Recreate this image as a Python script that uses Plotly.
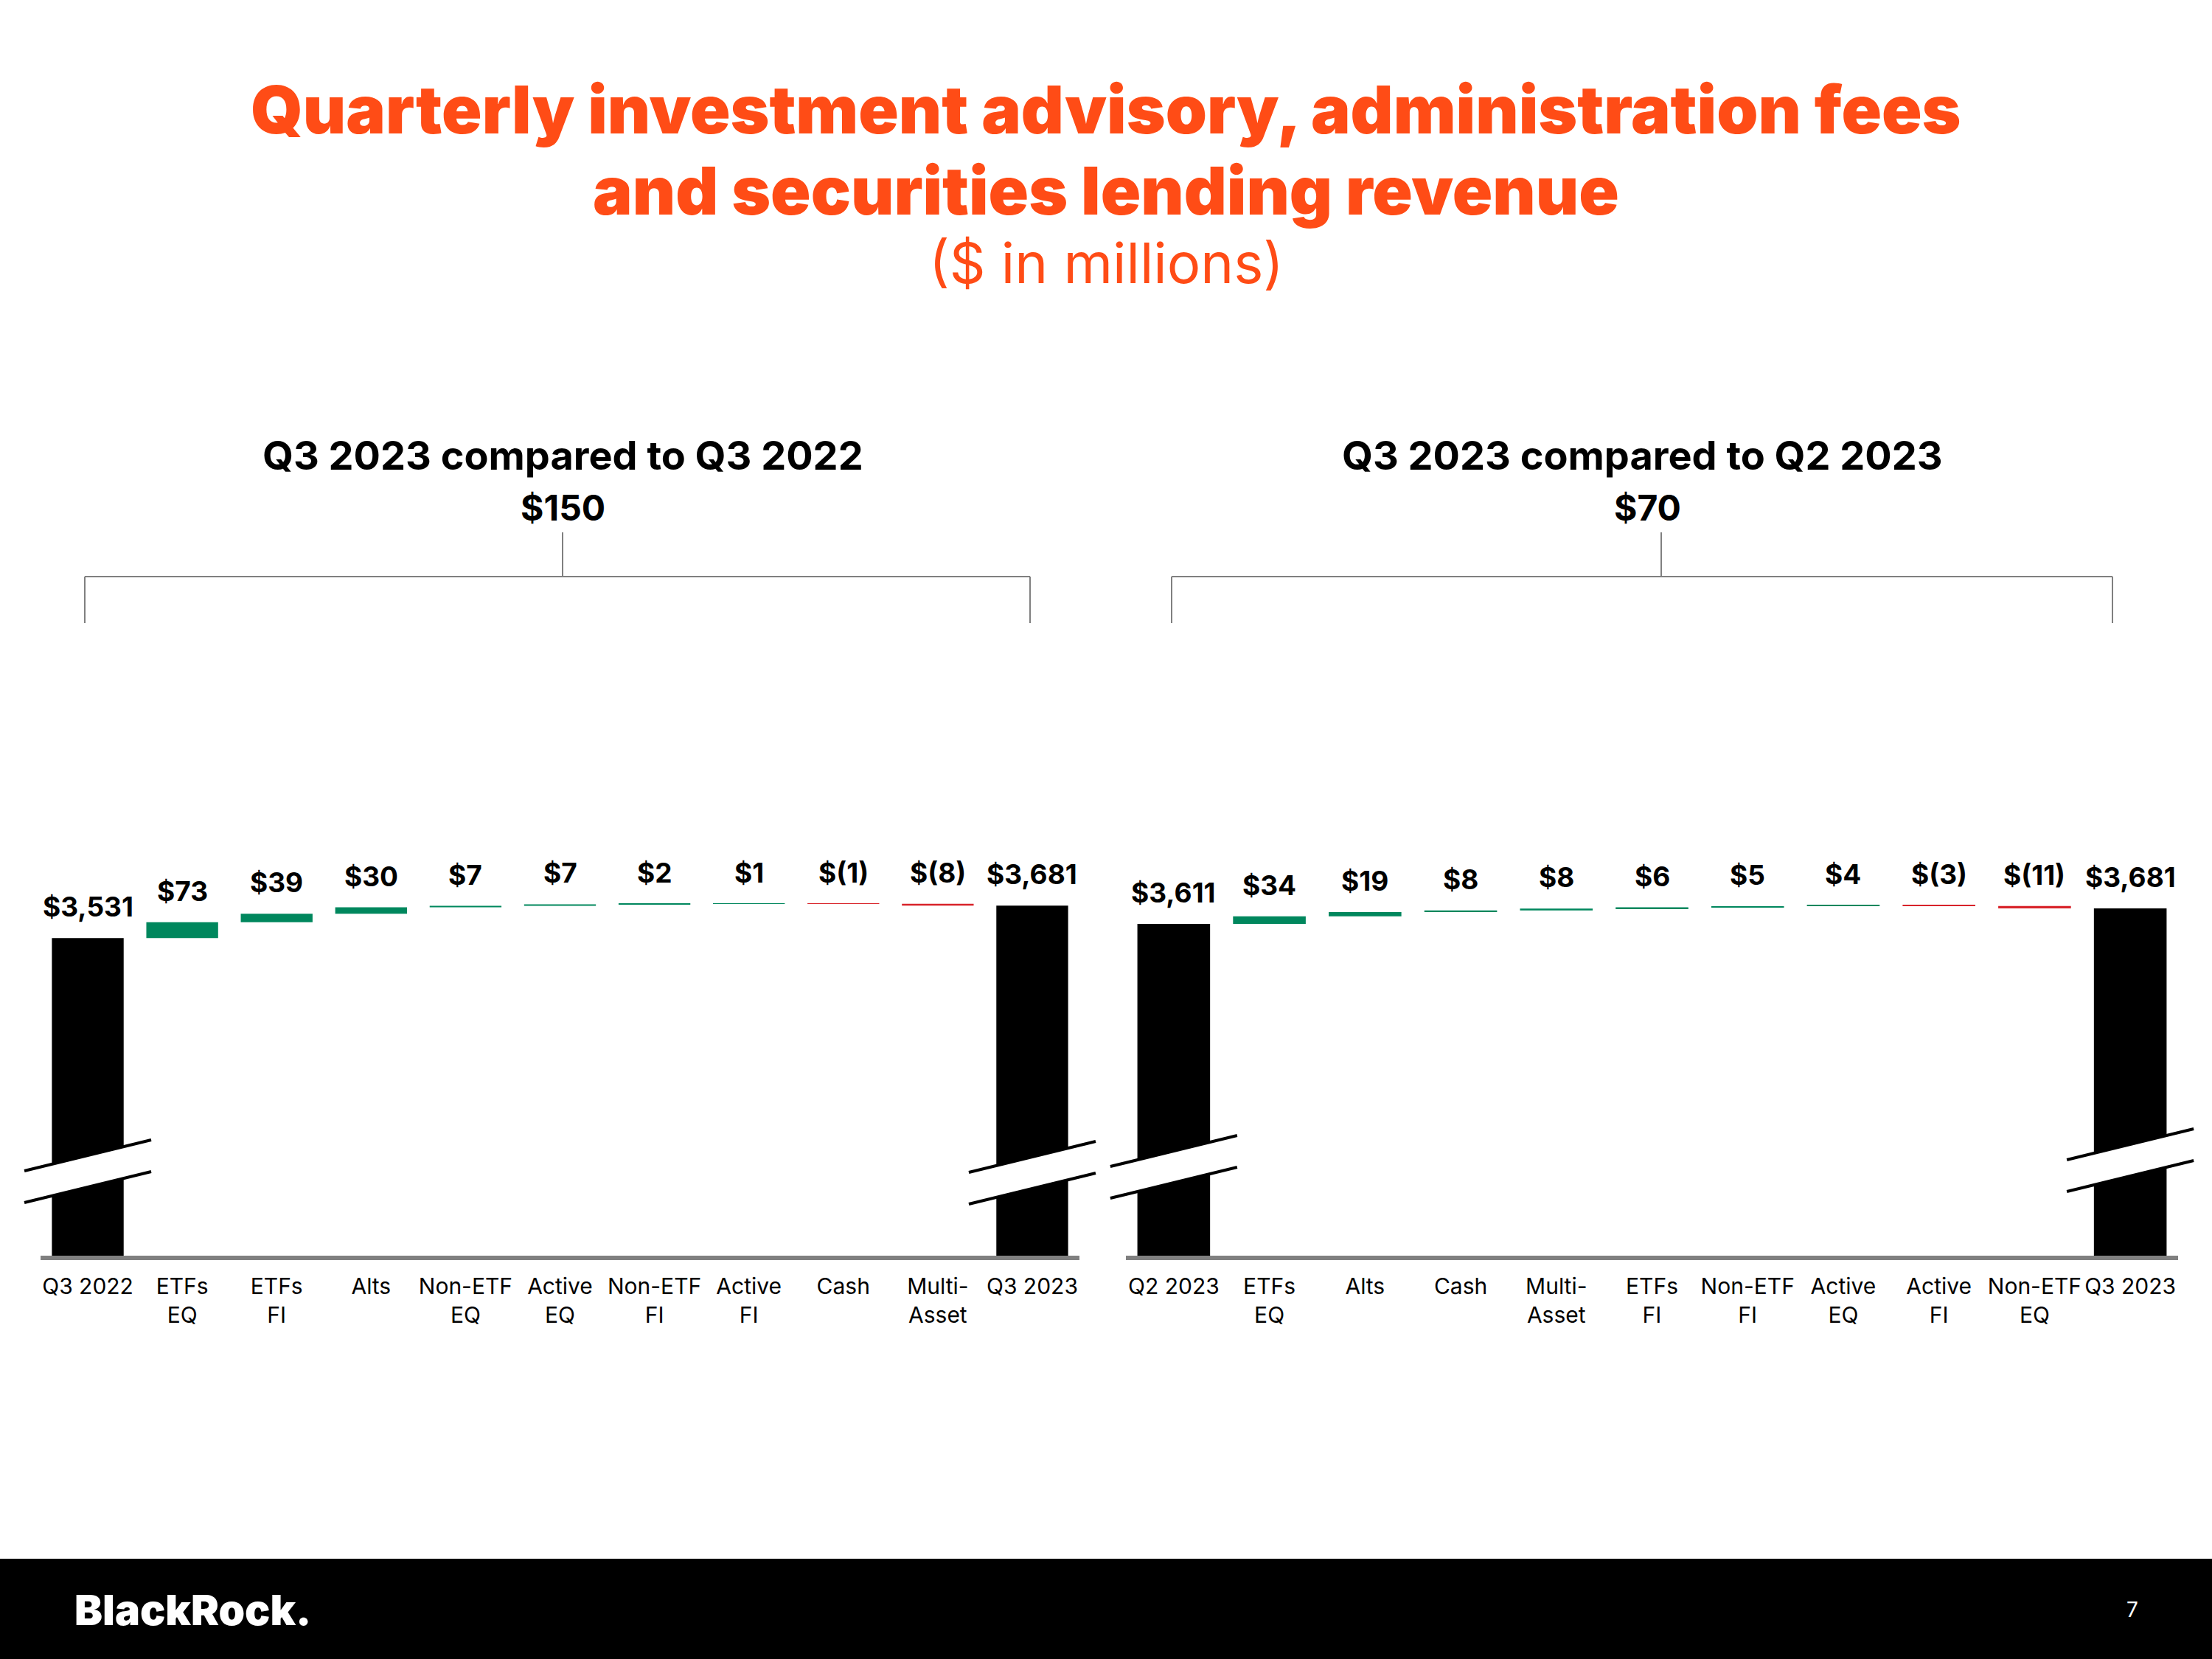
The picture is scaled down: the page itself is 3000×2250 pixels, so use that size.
import numpy as np
import plotly.graph_objects as go

W, H = 3000, 2250

# ---------------- data ----------------
left_categories = ["Q3 2022", "ETFs<br>EQ", "ETFs<br>FI", "Alts", "Non-ETF<br>EQ", "Active<br>EQ",
                   "Non-ETF<br>FI", "Active<br>FI", "Cash", "Multi-<br>Asset", "Q3 2023"]
left_values = [3531, 73, 39, 30, 7, 7, 2, 1, -1, -8, 3681]

right_categories = ["Q2 2023", "ETFs<br>EQ", "Alts", "Cash", "Multi-<br>Asset", "ETFs<br>FI",
                    "Non-ETF<br>FI", "Active<br>EQ", "Active<br>FI", "Non-ETF<br>EQ", "Q3 2023"]
right_values = [3611, 34, 19, 8, 8, 6, 5, 4, -3, -11, 3681]

measures = ["absolute"] + ["relative"] * 9 + ["total"]

title_line1 = "Quarterly investment advisory, administration fees"
title_line2 = "and securities lending revenue"
subtitle = "($ in millions)"
left_heading = "Q3 2023 compared to Q3 2022"
right_heading = "Q3 2023 compared to Q2 2023"

# ---------------- style ----------------
ORANGE = "#FF4C16"
GREEN = "#00875D"
RED = "#D8232A"
BLACK = "#000000"
GRAY = "#808080"
FONT = "Inter"


def py(p):  # pixel-from-top -> paper y
    return 1 - p / H


def px(p):
    return p / W


def fmt(v, m):
    if m != "relative":
        return f"${v:,}"
    return f"$({-v})" if v < 0 else f"${v}"


def tops(values):
    run = 0
    out, labels = [], []
    for v, m in zip(values, measures):
        if m == "absolute":
            before, after = 0, v
        elif m == "relative":
            before, after = run, run + v
        else:
            before, after = 0, run
            v = run
        run = after
        out.append(max(before, after))
        labels.append(fmt(v, m))
    return out, labels


charts = [
    dict(cats=left_categories, vals=left_values, xa="x", ya="y",
         xdom=[55, 1464], yrange=[2062, 4108], heading=left_heading,
         hx=763, vx=763, bracket=(115, 1397, 763)),
    dict(cats=right_categories, vals=right_values, xa="x2", ya="y2",
         xdom=[1527, 2954], yrange=[2111, 4111], heading=right_heading,
         hx=2227, vx=2234, bracket=(1589, 2865, 2253)),
]

plot_top, plot_bot = 1103, 1703

fig = go.Figure()
annotations = []
shapes = []

for c in charts:
    fig.add_trace(go.Waterfall(
        x=c["cats"], y=c["vals"], measure=measures,
        xaxis=c["xa"], yaxis=c["ya"],
        width=0.76,
        increasing=dict(marker=dict(color=GREEN)),
        decreasing=dict(marker=dict(color=RED)),
        totals=dict(marker=dict(color=BLACK)),
        connector=dict(visible=False),
        showlegend=False, hoverinfo="skip",
    ))
    t, labels = tops(c["vals"])
    for cat, top, lab in zip(c["cats"], t, labels):
        annotations.append(dict(
            x=cat, y=top, xref=c["xa"], yref=c["ya"], text=lab, showarrow=False,
            yanchor="bottom", xanchor="center", yshift=18,
            font=dict(family=FONT, size=37, color=BLACK, weight=700)))

    # headings
    change = c["vals"][-1] - c["vals"][0]
    annotations.append(dict(x=px(c["hx"]), y=py(618), xref="paper", yref="paper",
                            text=c["heading"], showarrow=False, xanchor="center", yanchor="middle",
                            font=dict(family=FONT, size=54, color=BLACK, weight=700)))
    annotations.append(dict(x=px(c["vx"]), y=py(689), xref="paper", yref="paper",
                            text=f"${change:,}", showarrow=False, xanchor="center", yanchor="middle",
                            font=dict(family=FONT, size=48, color=BLACK, weight=700)))

    # bracket
    bl, br, bc = c["bracket"]
    line = dict(color=GRAY, width=2)
    shapes.append(dict(type="line", xref="paper", yref="paper", x0=px(bc), x1=px(bc), y0=py(722), y1=py(782), line=line))
    shapes.append(dict(type="line", xref="paper", yref="paper", x0=px(bl), x1=px(br), y0=py(782), y1=py(782), line=line))
    shapes.append(dict(type="line", xref="paper", yref="paper", x0=px(bl), x1=px(bl), y0=py(782), y1=py(845), line=line))
    shapes.append(dict(type="line", xref="paper", yref="paper", x0=px(br), x1=px(br), y0=py(782), y1=py(845), line=line))

# axis break marks on the first and last bars of each chart
breaks = [(0, 0, 1588), (0, 10, 1590), (1, 0, 1582), (1, 10, 1573)]
for ci, idx, yl in breaks:
    d0, d1 = charts[ci]["xdom"]
    step = (d1 - d0) / 11
    cx = d0 + (idx + 0.5) * step
    xa, xb = cx - 86, cx + 86
    rise, gap = 42, 43
    u1, u2 = yl, yl - rise
    l1, l2 = yl + gap, yl - rise + gap
    path = (f"M {px(xa)},{py(u1)} L {px(xb)},{py(u2)} L {px(xb)},{py(l2)} "
            f"L {px(xa)},{py(l1)} Z")
    shapes.append(dict(type="path", xref="paper", yref="paper", path=path,
                       fillcolor="white", line=dict(width=0)))
    for a, b in ((u1, u2), (l1, l2)):
        shapes.append(dict(type="line", xref="paper", yref="paper", x0=px(xa), x1=px(xb),
                           y0=py(a), y1=py(b), line=dict(color=BLACK, width=4)))

# footer band
shapes.append(dict(type="rect", xref="paper", yref="paper", x0=0, x1=1, y0=0, y1=py(2114),
                   fillcolor=BLACK, line=dict(width=0), layer="below"))

# titles
annotations += [
    dict(x=0.5, y=py(149), xref="paper", yref="paper", text=title_line1, showarrow=False,
         xanchor="center", yanchor="middle", font=dict(family=FONT, size=90, color=ORANGE, weight=900)),
    dict(x=0.5, y=py(258), xref="paper", yref="paper", text=title_line2, showarrow=False,
         xanchor="center", yanchor="middle", font=dict(family=FONT, size=90, color=ORANGE, weight=900)),
    dict(x=0.5, y=py(356), xref="paper", yref="paper", text=subtitle, showarrow=False,
         xanchor="center", yanchor="middle", font=dict(family=FONT, size=76, color=ORANGE, weight=400)),
    dict(x=px(99), y=py(2183), xref="paper", yref="paper", text="BlackRock.", showarrow=False,
         xanchor="left", yanchor="middle", font=dict(family=FONT, size=57, color="white", weight=900)),
    dict(x=px(2892), y=py(2183), xref="paper", yref="paper", text="7", showarrow=False,
         xanchor="center", yanchor="middle", font=dict(family=FONT, size=28, color="white")),
]

axis_common = dict(type="category", showgrid=False, zeroline=False, showline=True,
                   linecolor=GRAY, linewidth=6, ticks="", ticklabelstandoff=10,
                   tickfont=dict(family=FONT, size=30, color=BLACK), fixedrange=True)
yaxis_common = dict(visible=False, showgrid=False, fixedrange=True)

fig.update_layout(
    width=W, height=H, margin=dict(l=0, r=0, t=0, b=0),
    paper_bgcolor="white", plot_bgcolor="rgba(0,0,0,0)",
    xaxis=dict(domain=[px(charts[0]["xdom"][0]), px(charts[0]["xdom"][1])], anchor="y", **axis_common),
    yaxis=dict(domain=[py(plot_bot), py(plot_top)], anchor="x", range=charts[0]["yrange"], **yaxis_common),
    xaxis2=dict(domain=[px(charts[1]["xdom"][0]), px(charts[1]["xdom"][1])], anchor="y2", **axis_common),
    yaxis2=dict(domain=[py(plot_bot), py(plot_top)], anchor="x2", range=charts[1]["yrange"], **yaxis_common),
    annotations=annotations, shapes=shapes,
)

fig.write_html("out.html", config={"displayModeBar": False},
               post_script="document.body.style.margin='0';")
